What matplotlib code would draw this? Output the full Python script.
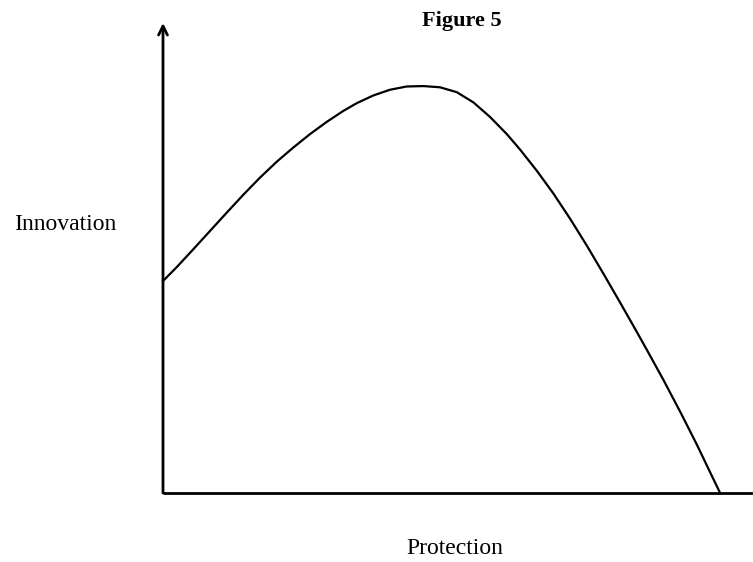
import numpy as np
import matplotlib.pyplot as plt

# curve (protection vs innovation, arbitrary units)
protection = [0.0, 0.246, 0.544, 0.844, 1.144, 1.442, 1.741, 2.041, 2.339,
              2.639, 2.939, 3.237, 3.478, 3.776, 4.075, 4.375, 4.675, 4.973,
              5.273, 5.571, 5.871, 6.171, 6.409, 6.709, 7.007, 7.307, 7.607,
              7.905, 8.205, 8.504, 8.684, 8.982, 9.282, 9.582, 9.820, 10.0]
innovation = [5.21, 5.55, 5.99, 6.44, 6.89, 7.33, 7.75, 8.14, 8.49,
              8.82, 9.12, 9.39, 9.58, 9.77, 9.91, 9.99, 10.0, 9.97,
              9.85, 9.60, 9.24, 8.82, 8.44, 7.92, 7.36, 6.74, 6.08,
              5.39, 4.68, 3.96, 3.52, 2.78, 2.00, 1.19, 0.51, 0.0]

title = "Figure 5"
xlabel = "Protection"
ylabel = "Innovation"

plt.rcParams['font.family'] = ['Liberation Serif', 'DejaVu Serif']

fig = plt.figure(figsize=(7.53, 5.62), dpi=100)
W, H = 753, 562
# axes: origin at (163, 493) px, top at 23 px, right edge of figure
ax = fig.add_axes([163 / W, (H - 493) / H, (W - 163) / W, (493 - 23) / H])
ax.set_xlim(0, 10.59)
ax.set_ylim(0, 11.55)
for s in ax.spines.values():
    s.set_visible(False)
ax.set_xticks([])
ax.set_yticks([])
ax.patch.set_alpha(0)

# axes lines
ax.plot([0, 10.59], [0, 0], color='black', lw=2.0, clip_on=False,
        solid_capstyle='butt')
ax.annotate('', xy=(0, 11.55), xytext=(0, 0),
            arrowprops=dict(arrowstyle='->', lw=2.0, color='black',
                            shrinkA=0, shrinkB=0, mutation_scale=16),
            annotation_clip=False)

# curve
ax.plot(protection, innovation, color='black', lw=1.6, clip_on=False,
        solid_joinstyle='round')

fig.text(462 / W, 1 - 21 / H, title, ha='center', va='center',
         fontsize=16, fontweight='bold')
fig.text(65 / W, 1 - 225 / H, ylabel, ha='center', va='center', fontsize=17)
fig.text(455 / W, 1 - 549 / H, xlabel, ha='center', va='center', fontsize=17)

fig.savefig('out.png', dpi=100)
